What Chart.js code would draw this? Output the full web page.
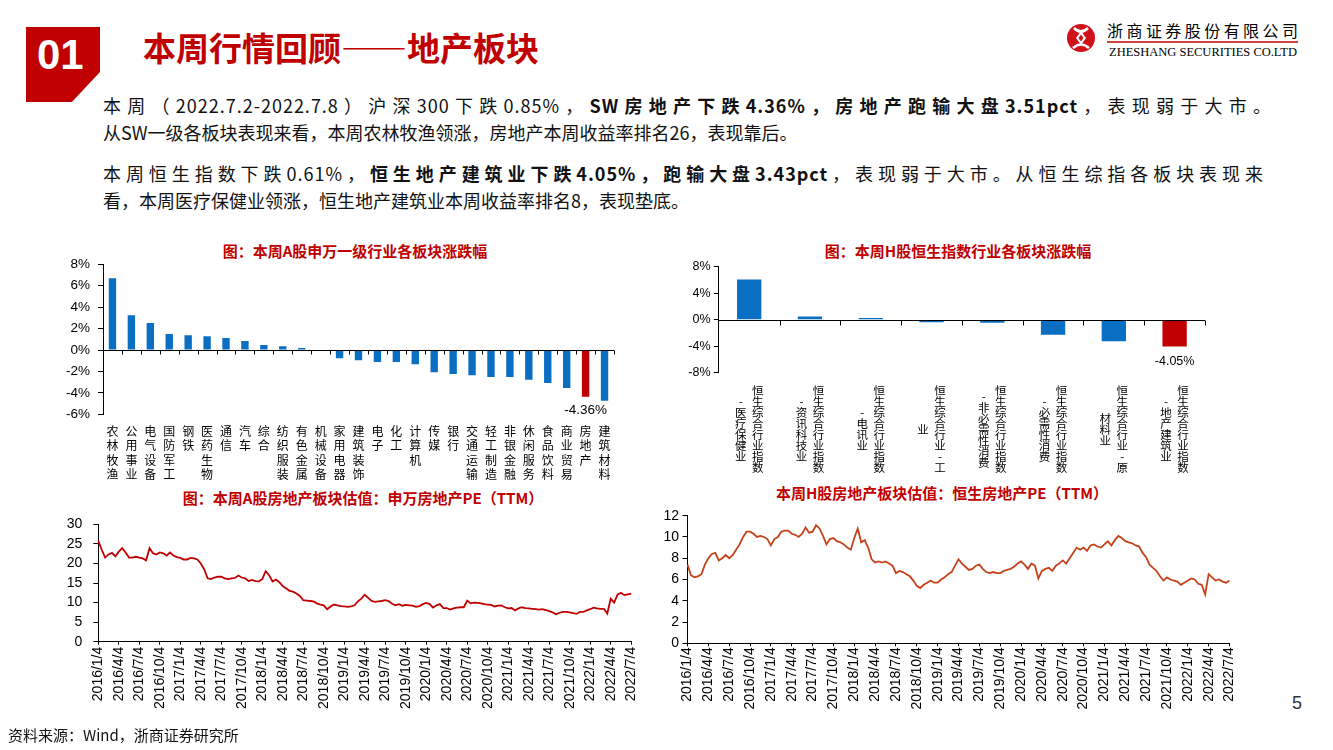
<!DOCTYPE html>
<html lang="zh-CN">
<head>
<meta charset="utf-8">
<title>本周行情回顾——地产板块</title>
<script src="https://cdn.jsdelivr.net/npm/chart.js@4.4.1/dist/chart.umd.min.js"></script>
<style>
  html, body { margin: 0; padding: 0; background: #fff; }
  body { width: 1333px; height: 750px; position: relative; overflow: hidden;
         font-family: 'Noto Sans CJK SC', sans-serif; color: #000; }
  .abs { position: absolute; white-space: nowrap; }
  .badge { left: 26px; top: 27px; width: 74px; height: 75px; background: #C00000;
           clip-path: polygon(0 0, 100% 0, 100% 60%, 62% 100%, 0 100%); }
  .badge-num { left: 37px; top: 34px; font: bold 42px/42px 'Liberation Sans', Arial, sans-serif; color: #fff; }
  .page-title { left: 143px; top: 31px; font-size: 33px; line-height: 33px; font-weight: bold; color: #C00000; }
  .para { left: 103px; font-size: 18px; line-height: 18px; color: #111; }
  .para b { font-weight: bold; }
  .para.full { white-space: normal; letter-spacing: 1px; text-align: justify; text-align-last: justify; text-justify: inter-character; }
  .chart-title { font-size: 15px; line-height: 15px; font-weight: bold; color: #C00000;
                 transform: translate(-50%, -50%); }
  .note { left: 8px; top: 727px; font-size: 15px; line-height: 15px; color: #111; }
  .page-no { left: 1292px; top: 694px; font: 18px/18px 'Liberation Sans', Arial, sans-serif; color: #333; }
  canvas { position: absolute; }
</style>
</head>
<body>

<div class="abs badge"></div>
<div class="abs badge-num">01</div>
<div class="abs page-title">本周行情回顾——地产板块</div>

<svg class="abs" style="left:1060px;top:15px" width="250" height="50" viewBox="0 0 250 50">
  <circle cx="21" cy="23" r="14" fill="#D0121B"/>
  <path d="M14 13 Q21 20 28 13 M13 33 Q21 26 29 33" stroke="#fff" stroke-width="2.6" fill="none"/>
  <path d="M21 16 L26 23 L21 30 L16 23 Z" fill="#fff"/>
  <path d="M21 19.5 L23.5 23 L21 26.5 L18.5 23 Z" fill="#D0121B"/>
  <text x="47" y="21.5" font-family="Noto Sans CJK SC" font-size="16" textLength="191" lengthAdjust="spacing">浙商证券股份有限公司</text>
  <line x1="47" y1="27" x2="238" y2="27" stroke="#C00000" stroke-width="1.5"/>
  <text x="49" y="41" font-family="Liberation Serif" font-size="12" textLength="188" lengthAdjust="spacingAndGlyphs">ZHESHANG SECURITIES CO.LTD</text>
</svg>

<div class="abs para full" style="top:96px;width:1169px">本周（2022.7.2-2022.7.8）沪深300下跌0.85%，<b>SW房地产下跌4.36%，房地产跑输大盘3.51pct</b>，表现弱于大市。</div>
<div class="abs para" style="top:123px">从SW一级各板块表现来看，本周农林牧渔领涨，房地产本周收益率排名26，表现靠后。</div>
<div class="abs para full" style="top:164px;width:1161px">本周恒生指数下跌0.61%，<b>恒生地产建筑业下跌4.05%，跑输大盘3.43pct</b>，表现弱于大市。从恒生综指各板块表现来</div>
<div class="abs para" style="top:191px">看，本周医疗保健业领涨，恒生地产建筑业本周收益率排名8，表现垫底。</div>

<div class="abs chart-title" style="left:355px;top:250px">图：本周A股申万一级行业各板块涨跌幅</div>
<div class="abs chart-title" style="left:958px;top:250px">图：本周H股恒生指数行业各板块涨跌幅</div>
<div class="abs chart-title" style="left:363px;top:497px">图：本周A股房地产板块估值：申万房地产PE（TTM）</div>
<div class="abs chart-title" style="left:942px;top:492px">本周H股房地产板块估值：恒生房地产PE（TTM）</div>

<canvas id="swSectorChart" width="600" height="229" style="left:40px;top:256px"></canvas>
<canvas id="hsSectorChart" width="600" height="229" style="left:650px;top:256px"></canvas>
<canvas id="swPeChart" width="610" height="220" style="left:40px;top:505px"></canvas>
<canvas id="hsPeChart" width="600" height="220" style="left:650px;top:505px"></canvas>

<div class="abs note">资料来源：Wind，浙商证券研究所</div>
<div class="abs page-no">5</div>

<script>
// ---- 申万一级行业本周涨跌幅（%）----
const swSectors = ['农林牧渔', '公用事业', '电气设备', '国防军工', '钢铁', '医药生物', '通信', '汽车', '综合',
  '纺织服装', '有色金属', '机械设备', '家用电器', '建筑装饰', '电子', '化工', '计算机', '传媒', '银行',
  '交通运输', '轻工制造', '非银金融', '休闲服务', '食品饮料', '商业贸易', '房地产', '建筑材料'];
const swReturns = [6.69, 3.24, 2.52, 1.49, 1.37, 1.28, 1.12, 0.84, 0.47,
  0.34, 0.19, -0.09, -0.78, -0.96, -1.12, -1.12, -1.34, -2.08, -2.24,
  -2.36, -2.52, -2.52, -2.77, -3.08, -3.55, -4.36, -4.73];
const swHighlight = '房地产';
const swTicks = [8, 6, 4, 2, 0, -2, -4, -6];

// ---- 恒生综合行业指数本周涨跌幅（%）----
const hsSectors = ['恒生综合行业指数-医疗保健业', '恒生综合行业指数-资讯科技业', '恒生综合行业指数-电讯业',
  '恒生综合行业-工业', '恒生综合行业指数-非必需性消费', '恒生综合行业指数-必需性消费',
  '恒生综合行业-原材料业', '恒生综合行业指数-地产建筑业'];
const hsReturns = [6.08, 0.50, 0.25, -0.40, -0.45, -2.26, -3.27, -4.05];
const hsHighlight = '恒生综合行业指数-地产建筑业';
const hsTicks = [8, 4, 0, -4, -8];

// ---- PE(TTM) 序列：每月4日、19日各取一点 ----
const peDates = [];
for (let yr = 2016; yr <= 2022; yr++) {
  for (let mo = 1; mo <= 12; mo++) {
    for (const d of [4, 19]) {
      if (yr === 2022 && (mo > 7 || (mo === 7 && d > 4))) continue;
      peDates.push(yr + '/' + mo + '/' + d);
    }
  }
}
const peTickLabels = ['2016/1/4', '2016/4/4', '2016/7/4', '2016/10/4', '2017/1/4', '2017/4/4', '2017/7/4',
  '2017/10/4', '2018/1/4', '2018/4/4', '2018/7/4', '2018/10/4', '2019/1/4', '2019/4/4', '2019/7/4',
  '2019/10/4', '2020/1/4', '2020/4/4', '2020/7/4', '2020/10/4', '2021/1/4', '2021/4/4', '2021/7/4',
  '2021/10/4', '2022/1/4', '2022/4/4', '2022/7/4'];

// 申万房地产 PE
const swPe = [
  25.8, 23.5, 21.5, 22.3, 22.7, 21.8, 23.0, 23.9, 22.8, 21.5, 21.5, 21.7, 21.5, 21.3, 20.8, 23.9, 22.6, 22.3, 22.8, 22.6, 22.0, 22.8, 22.0, 21.6,
  21.4, 21.0, 21.0, 21.4, 21.3, 21.0, 20.0, 18.5, 16.2, 16.0, 16.4, 16.6, 16.6, 16.2, 16.0, 16.2, 16.3, 16.9, 16.4, 16.2, 15.5, 15.8, 15.5, 15.4,
  16.0, 18.0, 17.0, 15.4, 15.9, 15.2, 14.2, 13.6, 13.0, 12.8, 12.3, 11.7, 10.6, 10.5, 10.4, 10.3, 9.8, 9.5, 9.3, 8.3, 9.0, 9.5, 9.3, 9.1,
  9.0, 8.9, 9.0, 9.3, 10.3, 11.0, 12.0, 11.2, 10.4, 10.2, 10.3, 10.4, 10.6, 10.4, 9.7, 9.3, 9.6, 9.2, 9.4, 9.3, 9.2, 8.9, 9.1, 9.6,
  9.9, 9.6, 8.7, 9.3, 9.6, 8.6, 8.6, 8.2, 8.5, 8.7, 8.8, 8.8, 10.5, 9.8, 10.0, 9.9, 9.8, 9.6, 9.5, 9.4, 9.0, 9.2, 9.3, 8.8,
  8.5, 8.6, 8.0, 8.5, 8.8, 8.6, 8.5, 8.4, 8.3, 8.2, 8.3, 8.1, 7.8, 7.5, 7.0, 7.4, 7.6, 7.6, 7.5, 7.3, 7.1, 7.6, 7.6, 8.0,
  8.3, 8.7, 8.5, 8.4, 8.4, 7.2, 11.0, 10.0, 12.0, 12.5, 11.9, 12.1, 12.3
];
// 恒生房地产 PE
const hsPe = [
  7.4, 6.4, 6.2, 6.3, 6.5, 7.4, 8.0, 8.4, 8.5, 7.8, 8.0, 8.3, 8.0, 8.3, 8.8, 9.3, 10.0, 10.5, 10.5, 10.3, 10.0, 10.1, 10.0, 9.8,
  9.2, 9.8, 10.0, 10.5, 10.6, 10.6, 10.3, 10.2, 10.0, 10.3, 10.9, 10.4, 10.5, 11.1, 10.8, 10.1, 9.3, 9.8, 9.9, 9.6, 9.5, 9.3, 9.0, 8.8,
  9.9, 10.8, 9.5, 9.7, 9.0, 7.9, 7.6, 7.7, 7.6, 7.7, 7.5, 7.3, 6.6, 6.8, 6.7, 6.5, 6.3, 5.9, 5.4, 5.2, 5.5, 5.7, 5.9, 5.7,
  5.7, 6.0, 6.2, 6.5, 6.7, 7.3, 7.9, 7.5, 7.2, 6.9, 7.0, 7.3, 7.4, 7.0, 6.7, 6.6, 6.7, 6.6, 6.6, 6.8, 6.9, 7.0, 7.2, 7.5,
  7.7, 7.4, 7.0, 7.5, 7.3, 6.1, 6.8, 7.0, 7.1, 6.8, 7.3, 7.5, 7.8, 7.5, 8.0, 8.5, 9.0, 8.8, 9.0, 8.7, 9.2, 9.3, 9.1, 9.0,
  9.3, 9.6, 9.2, 9.7, 10.1, 9.9, 9.6, 9.5, 9.4, 9.2, 9.1, 8.5, 8.1, 7.4, 7.1, 6.8, 6.3, 5.9, 6.2, 6.0, 5.9, 5.8, 5.5, 5.7,
  5.9, 6.1, 6.0, 5.6, 5.5, 4.6, 6.5, 6.2, 5.9, 6.0, 5.8, 5.7, 5.9
];

const BLUE = '#0A6FC2';
const RED = '#C00000';
const ARIAL = "'Liberation Sans', Arial, sans-serif";
const CJK = "'Noto Sans CJK SC', sans-serif";

Chart.defaults.font.family = ARIAL;
Chart.defaults.color = '#000';
Chart.defaults.animation = false;

// 零轴 + 分类间的小刻度
const zeroAxisPlugin = {
  id: 'zeroAxis',
  afterDatasetsDraw(chart, args, opts) {
    const { ctx, chartArea, scales: { x, y } } = chart;
    const y0 = Math.round(y.getPixelForValue(0)) + 0.5;
    const step = x.getPixelForValue(1) - x.getPixelForValue(0);
    ctx.save();
    ctx.strokeStyle = '#000';
    ctx.lineWidth = 1;
    ctx.beginPath();
    ctx.moveTo(chartArea.left, y0);
    ctx.lineTo(chartArea.right, y0);
    for (let i = 0; i < chart.data.labels.length; i++) {
      const px = Math.round(x.getPixelForValue(i) + step / 2) + 0.5;
      ctx.moveTo(px, y0);
      ctx.lineTo(px, y0 + opts.tick);
    }
    ctx.stroke();
    ctx.restore();
  }
};

// 高亮柱下方的数值标签
const endLabelPlugin = {
  id: 'endLabel',
  afterDatasetsDraw(chart, args, opts) {
    const bar = chart.getDatasetMeta(0).data[opts.index];
    const value = chart.data.datasets[0].data[opts.index];
    const { ctx } = chart;
    ctx.save();
    ctx.font = opts.size + 'px ' + ARIAL;
    ctx.fillStyle = '#000';
    ctx.textAlign = 'center';
    ctx.textBaseline = 'middle';
    ctx.fillText(value.toFixed(2) + '%', bar.x, bar.y + opts.offset);
    ctx.restore();
  }
};

// 恒生行业名：竖排两列（右列先读）
const stackedLabelPlugin = {
  id: 'stackedLabels',
  afterDraw(chart, args, opts) {
    const { ctx, chartArea, scales: { x } } = chart;
    ctx.save();
    ctx.font = opts.size + 'px ' + CJK;
    ctx.fillStyle = '#000';
    ctx.textAlign = 'center';
    ctx.textBaseline = 'middle';
    chart.data.labels.forEach((name, i) => {
      const cx = x.getPixelForValue(i);
      const first = name.slice(0, opts.perColumn).split('');
      const rest = name.slice(opts.perColumn).split('');
      const top = chartArea.bottom + opts.gap;
      first.forEach((ch, k) => ctx.fillText(ch, cx + opts.colOffset, top + k * opts.pitch));
      const mid = top + (first.length - 1) / 2 * opts.pitch;
      const start = mid - (rest.length - 1) / 2 * opts.pitch;
      rest.forEach((ch, k) => ctx.fillText(ch, cx - opts.colOffset, start + k * opts.pitch));
    });
    ctx.restore();
  }
};

// 固定 y 轴宽度，并去掉刻度文字带来的上下留白，让绘图区只由 layout.padding 决定
function fixYAxis(width) {
  return scale => {
    scale.width = width;
    scale.paddingTop = 0;
    scale.paddingBottom = 0;
  };
}

function percentAxis(ticks, width, fontSize, pad) {
  return {
    min: ticks[ticks.length - 1],
    max: ticks[0],
    afterBuildTicks: scale => { scale.ticks = ticks.map(v => ({ value: v })); },
    afterFit: fixYAxis(width),
    border: { display: true, color: '#000', width: 1 },
    grid: { drawOnChartArea: false, drawTicks: true, tickLength: 5, tickColor: '#000' },
    ticks: { font: { size: fontSize }, padding: pad, autoSkip: false, callback: v => v + '%' }
  };
}

// 申万一级行业柱状图
function initSwSectorChart() {
  const ctx = document.getElementById('swSectorChart');
  new Chart(ctx, {
    type: 'bar',
    data: {
      labels: swSectors.map(s => s.split('')),
      datasets: [{
        data: swReturns,
        backgroundColor: swSectors.map(s => (s === swHighlight ? RED : BLUE)),
        barPercentage: 0.39,
        categoryPercentage: 1
      }]
    },
    options: {
      responsive: false,
      layout: { padding: { left: 10, top: 8.3, right: 26, bottom: 0 } },
      plugins: {
        legend: { display: false },
        tooltip: { enabled: false },
        zeroAxis: { tick: 4 },
        endLabel: { index: swSectors.indexOf(swHighlight), offset: 14, size: 13.5 }
      },
      scales: {
        x: {
          afterFit: scale => { scale.height = 70.7; },
          border: { display: false },
          grid: { display: false },
          ticks: {
            autoSkip: false, maxRotation: 0, minRotation: 0, padding: 1.5,
            font: { family: CJK, size: 12, lineHeight: 14.5 / 12 }
          }
        },
        y: percentAxis(swTicks, 53, 13.5, 8)
      }
    },
    plugins: [zeroAxisPlugin, endLabelPlugin]
  });
}

// 恒生行业柱状图
function initHsSectorChart() {
  const ctx = document.getElementById('hsSectorChart');
  new Chart(ctx, {
    type: 'bar',
    data: {
      labels: hsSectors,
      datasets: [{
        data: hsReturns,
        backgroundColor: hsSectors.map(s => (s === hsHighlight ? RED : BLUE)),
        barPercentage: 0.4,
        categoryPercentage: 1
      }]
    },
    options: {
      responsive: false,
      layout: { padding: { left: 10, top: 10.7, right: 45, bottom: 0 } },
      plugins: {
        legend: { display: false },
        tooltip: { enabled: false },
        zeroAxis: { tick: 5 },
        endLabel: { index: hsSectors.indexOf(hsHighlight), offset: 15, size: 12.5 },
        stackedLabels: { size: 11.5, perColumn: 8, gap: 18.3, pitch: 11, colOffset: 8.5 }
      },
      scales: {
        x: {
          afterFit: scale => { scale.height = 112.3; },
          border: { display: false },
          grid: { display: false },
          ticks: { display: false }
        },
        y: percentAxis(hsTicks, 58.8, 12.5, 3.3)
      }
    },
    plugins: [zeroAxisPlugin, endLabelPlugin, stackedLabelPlugin]
  });
}

// PE(TTM) 折线图
function initPeChart(canvasId, values, color, yMax, yStep, box) {
  const ctx = document.getElementById(canvasId);
  new Chart(ctx, {
    type: 'line',
    data: {
      labels: peDates,
      datasets: [{
        data: values,
        borderColor: color,
        borderWidth: 1.8,
        pointRadius: 0,
        tension: 0,
        fill: false
      }]
    },
    options: {
      responsive: false,
      layout: { padding: { left: 10, top: box.top, right: box.right, bottom: 0 } },
      plugins: { legend: { display: false }, tooltip: { enabled: false } },
      scales: {
        x: {
          offset: false,
          afterFit: scale => { scale.height = box.xHeight; },
          border: { display: true, color: '#000', width: 1 },
          grid: {
            drawOnChartArea: false, drawTicks: true, tickLength: 3,
            tickColor: c => (peTickLabels.includes(peDates[c.index]) ? '#000' : 'rgba(0,0,0,0)')
          },
          ticks: {
            autoSkip: false, maxRotation: 90, minRotation: 90, padding: box.xPad,
            font: { size: 14 },
            callback: (v, i) => (peTickLabels.includes(peDates[i]) ? peDates[i] : '')
          }
        },
        y: {
          min: 0,
          max: yMax,
          afterFit: fixYAxis(box.yWidth),
          border: { display: true, color: '#000', width: 1 },
          grid: { drawOnChartArea: false, drawTicks: true, tickLength: 5, tickColor: '#000' },
          ticks: { stepSize: yStep, autoSkip: false, font: { size: 14 }, padding: box.yPad }
        }
      }
    }
  });
}

initSwSectorChart();
initHsSectorChart();
initPeChart('swPeChart', swPe, RED, 30, 5, { top: 19.3, right: 12.7, xHeight: 83.3, yWidth: 48.3, xPad: 2, yPad: 11 });
initPeChart('hsPeChart', hsPe, '#C4421A', 12, 2, { top: 10.7, right: 20.5, xHeight: 81.7, yWidth: 27.5, xPad: 1, yPad: 3.5 });
</script>
</body>
</html>
